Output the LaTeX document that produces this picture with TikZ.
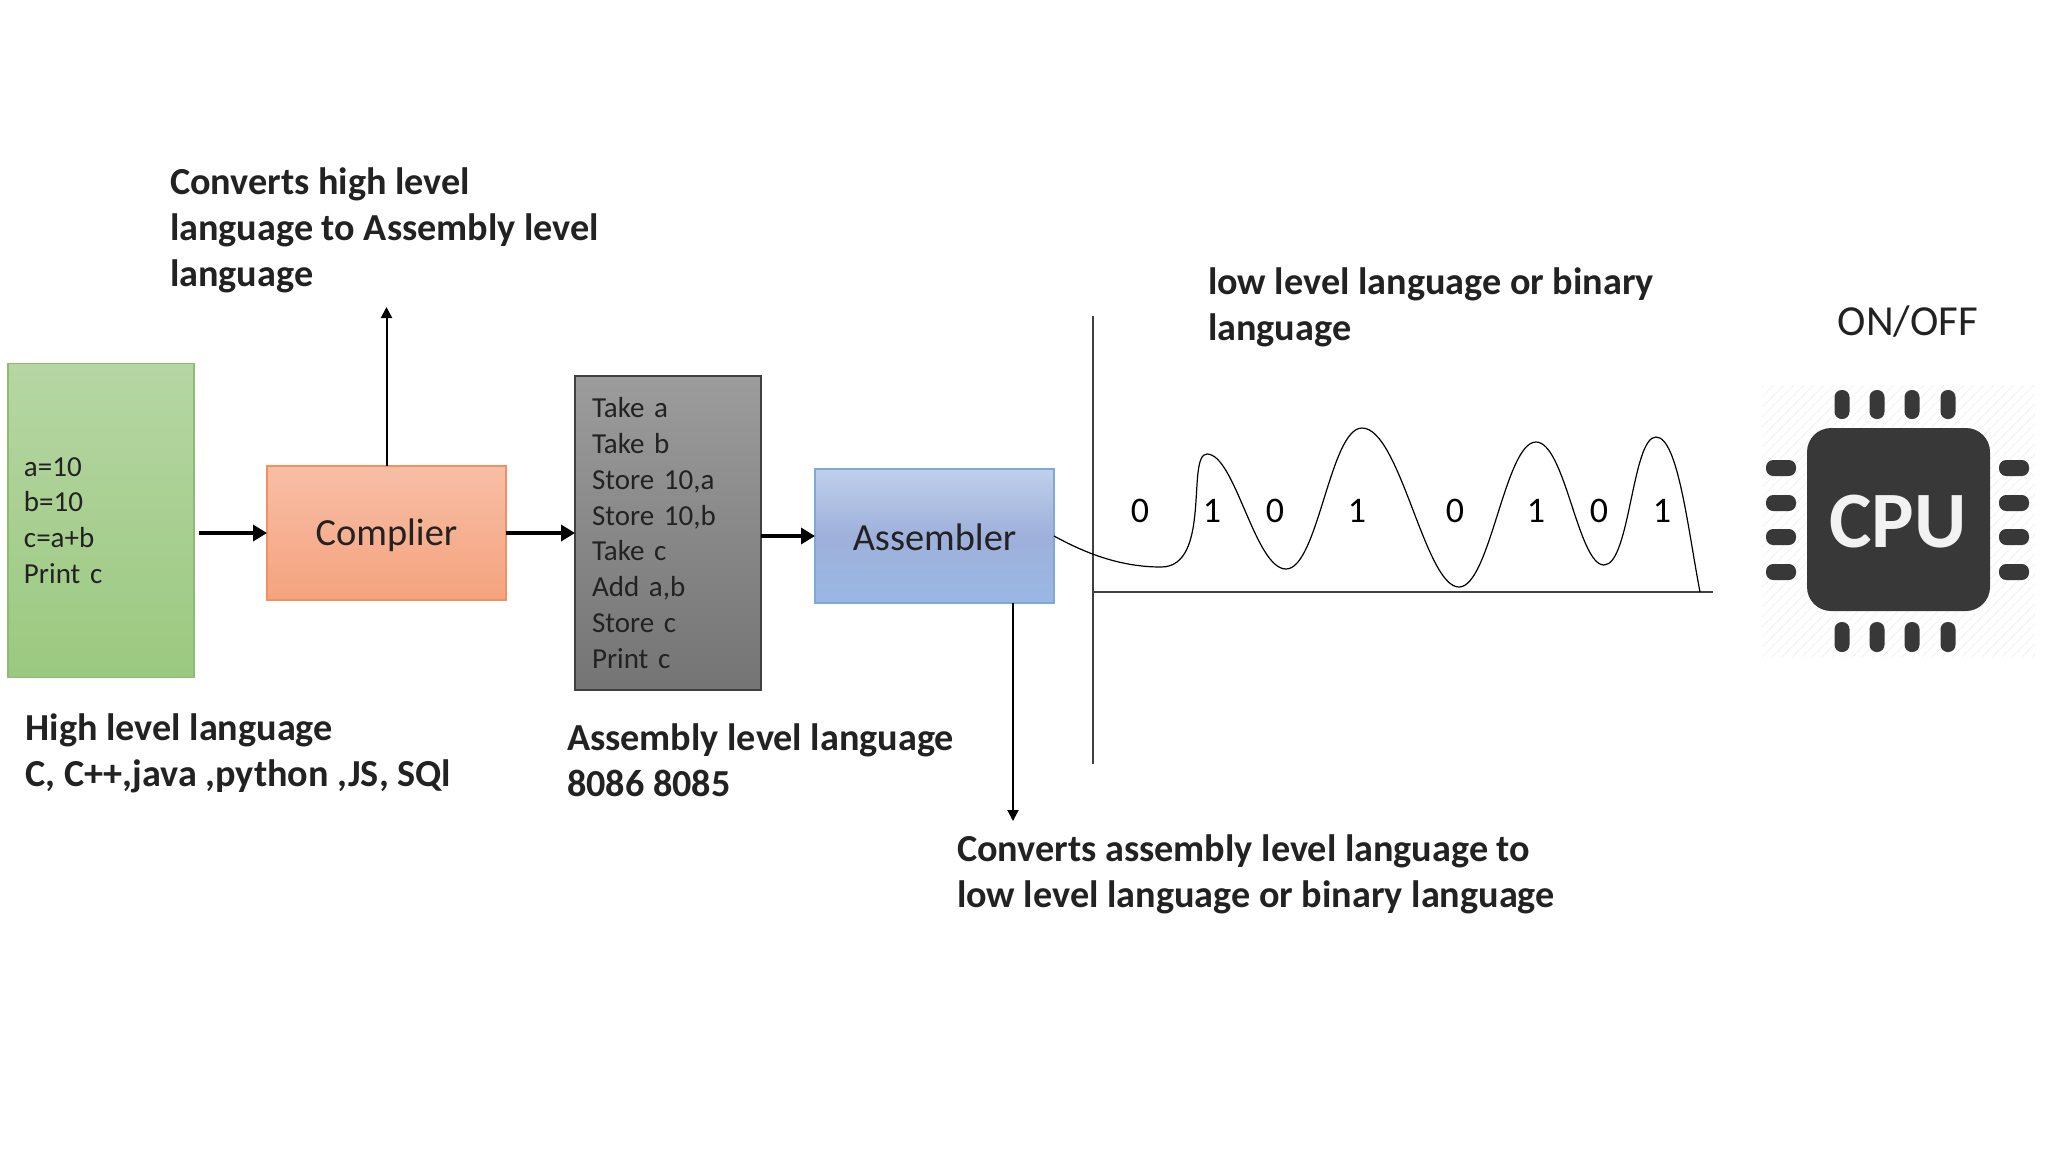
\documentclass[tikz,border=0pt]{standalone}
\usepackage{fontspec}
\setmainfont{Carlito}
\usetikzlibrary{arrows.meta}
\definecolor{ink}{HTML}{222222}
\definecolor{chipdark}{HTML}{383838}
\tikzset{
  x=0.5pt,y=-0.5pt,
  every node/.style={inner sep=0pt,outer sep=0pt,text=ink},
  headline/.style={anchor=west,align=left,font=\fontsize{19.1}{23}\selectfont\bfseries},
  codebox/.style={rectangle,draw,line width=0.6pt,align=left,minimum height=#1,
     font=\fontsize{14.5}{17.9}\selectfont},
  blockbox/.style={rectangle,draw,line width=0.6pt,minimum width=119.5pt,minimum height=67pt,
     text height=14pt,font=\fontsize{19.2}{22}\selectfont},
  thickarrow/.style={line width=2.4pt,-{Triangle[length=7pt,width=8pt]},black},
  thinarrow/.style={line width=1pt,-{Triangle[length=5.5pt,width=5.5pt]},black},
  axisline/.style={line width=0.6pt,draw=black!75},
  waveline/.style={line width=0.6pt,black},
  digit/.style={font=\fontsize{18}{22}\selectfont,text=black},
  pinshape/.style={fill=chipdark,rounded corners=3.6pt},
}
\begin{document}
\begin{tikzpicture}
\useasboundingbox (0,0) rectangle (2048,1152);
% boxes
\node[codebox=157pt,text width=77pt,inner xsep=8pt,draw={rgb,255:red,141;green,187;blue,112},top color={rgb,255:red,182;green,214;blue,163},bottom color={rgb,255:red,155;green,201;blue,128}] (src) at (101,520.5)
 {a=10\\b=10\\c=a+b\\Print c};
\node[blockbox,text depth=1.6pt,draw={rgb,255:red,240;green,145;blue,95},top color={rgb,255:red,247;green,190;blue,166},bottom color={rgb,255:red,245;green,163;blue,125}] (comp) at (386.5,533) {Complier};
\node[codebox=157pt,text width=76pt,inner xsep=8.5pt,draw=black!75,top color={rgb,255:red,156;green,156;blue,156},bottom color={rgb,255:red,116;green,116;blue,116}] (asmcode) at (668,533)
 {Take a\\Take b\\Store 10,a\\Store 10,b\\Take c\\Add a,b\\Store c\\Print c};
\node[blockbox,text depth=0pt,draw={rgb,255:red,125;green,168;blue,216},top color={rgb,255:red,190;green,208;blue,234},bottom color={rgb,255:red,152;green,184;blue,227},middle color={rgb,255:red,159;green,176;blue,219}] (asm) at (934.5,536) {Assembler};
% connectors
\draw[thickarrow,shorten <=2.5pt] (src.east |- comp.west) -- (comp.west);
\draw[thickarrow] (comp.east) -- (comp.east -| asmcode.west);
\draw[thickarrow] (asmcode.east |- asm.west) -- (asm.west);
\coordinate (upEnd) at (386.5,307);
\coordinate (downEnd) at (1013,821);
\draw[thinarrow] (comp.north) -- (upEnd);
\draw[thinarrow] (asm.south -| downEnd) -- (downEnd);
% labels
\node[headline] (lblCompiler) at (170,230.5) {Converts high level\\language to Assembly level\\language};
\node[headline] (lblHigh) at (25.5,753.5) {High level language\\C, C++,java ,python ,JS, SQl};
\node[headline] (lblAsm) at (567,760) {Assembly level language\\8086 8085};
\node[headline] (lblConv) at (957,874) {Converts assembly level language to\\low level language or binary language};
\node[headline] (lblLow) at (1208,307.5) {low level language or binary\\language};
\node[font=\fontsize{21.4}{24}\selectfont] (lblOnOff) at (1908,322) {ON/OFF};
% axes
\coordinate (axTop) at (1093,316);
\coordinate (axBot) at (1093,764);
\coordinate (axOrigin) at (1093,592);
\coordinate (axRight) at (1713,592);
\draw[axisline] (axTop) -- (axBot);
\draw[axisline,line width=0.8pt] (axOrigin) -- (axRight);
% wave
\draw[waveline] (asm.east) .. controls (1085,553) and (1120,567) .. (1161,567)
  .. controls (1212,567) and (1186,454) .. (1207,454)
  .. controls (1235,454) and (1255,569) .. (1286,569)
  .. controls (1318,569) and (1330,428) .. (1362,428)
  .. controls (1400,428) and (1425,587) .. (1459,587)
  .. controls (1490,587) and (1505,442) .. (1536,442)
  .. controls (1565,442) and (1578,565) .. (1604,565)
  .. controls (1630,565) and (1632,437) .. (1656,437)
  .. controls (1678,437) and (1688,530) .. (1700,592);
% digits
\foreach \n/\xx/\d in {a/1140/0,b/1212/1,c/1275/0,d/1357/1,e/1455/0,f/1536/1,g/1599/0,h/1662/1}
  \node[digit] (bit\n) at (\xx,511) {\d};
% chip
\begin{scope}
\clip (1762,385) rectangle (2035,657);
\foreach \k in {-280,-270,...,280}
  \draw[black!5,line width=0.4pt] (1762+\k,657) -- ++(280,-280);
\end{scope}
\foreach \xx in {1842,1877,1912,1948}{
  \fill[pinshape] (\xx-7.5,390) rectangle (\xx+7.5,419);
  \fill[pinshape] (\xx-7.5,622) rectangle (\xx+7.5,652);
}
\foreach \yy in {468,503,537,572}{
  \fill[pinshape] (1766,\yy-8) rectangle (1796,\yy+8);
  \fill[pinshape] (1999,\yy-8) rectangle (2029,\yy+8);
}
\fill[chipdark,rounded corners=12pt] (1807,428) rectangle (1990,611);
\node[font=\fontsize{40}{44}\selectfont\bfseries,text=white!95!black] (chipText) at (1898,522) {CPU};
\end{tikzpicture}
\end{document}
